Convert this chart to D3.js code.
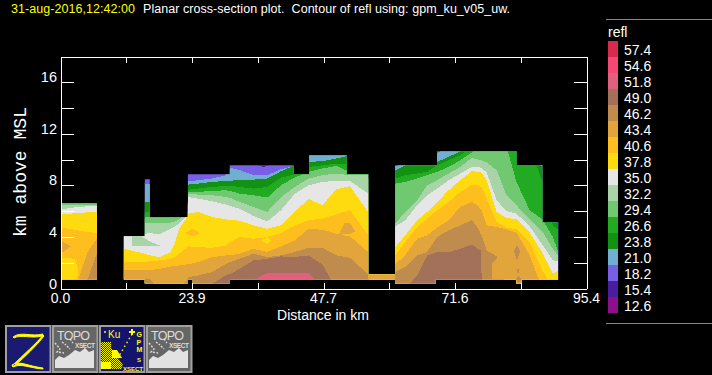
<!DOCTYPE html>
<html><head><meta charset="utf-8">
<script src="https://cdn.jsdelivr.net/npm/d3@7"></script>
<style>html,body{margin:0;padding:0;background:#000;overflow:hidden}svg{display:block}text{font-family:"Liberation Sans",sans-serif}</style>
</head><body><svg id="c" width="712" height="375"></svg>
<script>
// reflectivity legend
const legendValues = [57.4,54.6,51.8,49.0,46.2,43.4,40.6,37.8,35.0,32.2,29.4,26.6,23.8,21.0,18.2,15.4,12.6];
const legendColors = ["#d62a4e","#f74873","#e0607d","#a3705a","#c08c4e","#e1a53c","#fdbe1e","#fddb0e","#e6e6e6","#a8d4a8","#70c870","#22aa22","#129112","#70afd2","#785fe6","#481ea0","#8c0f8c"];
const xTickValues = [0,11.925,23.85,35.775,47.7,59.625,71.55,83.475,95.4];
const xTickLabels = ["0.0","","23.9","","47.7","","71.6","","95.4"];
const yTickValues = [0,2,4,6,8,10,12,14,16];
const yTickLabels = ["0","","4","","8","","12","","16"];

// distance of each sampled column, km
const columnKm = [0,1.9,3.2,4.9,6.6,
 11.5,14,15.3,16.2,18,20,20.8,21.5,23,23.2,25,27.5,30,30.8,32.5,35,37.5,40,42.5,45,47.5,50,52.5,55.8,56,60.4,
 60.7,62.5,64.7,66.5,68.3,70.4,72.5,74.6,75.8,76.3,76.4,77.3,79.1,80.9,82.7,85.1,87.4,89.3,90.3];

// height (km) of the top of each reflectivity band at each column
const top210 = [11,11,11,11,11,
 11,11,8.09,8.09,6.32,6.32,6.32,6.32,6.32,8.32,8.40,8.53,8.79,9.36,9.18,8.79,8.79,9.25,9.51,10.39,10.39,10.34,10.34,10.34,11,11,
 9.49,9.69,9.69,9.69,10.52,11,11,11,11,11,11,11,11,11,11,11,11,11,11];
const top238 = [11,11,11,11,11,
 11,11,6.71,6.71,6.32,6.32,6.32,6.32,6.32,8.06,8.14,8.27,8.35,8.37,8.40,8.45,8.53,9.10,9.56,9.82,9.88,10.08,10.34,10.34,11,11,
 9.18,9.56,9.64,9.64,9.82,10.21,10.65,11,11,11,11,11,11,11,11,11,9.36,11,11];
const top266 = [11,11,11,11,11,
 11,11,5.94,5.94,5.94,5.94,5.94,5.94,6.32,7.67,7.75,7.88,7.96,7.96,7.88,7.75,7.88,8.61,8.84,9.43,9.56,9.69,9.69,9.69,11,11,
 8.53,8.79,8.92,9.05,9.56,9.95,10.34,11,11,11,11,11,11,11,11,11,8.27,4.90,4.59];
const top294 = [11,11,11,11,11,
 11,11,5.52,5.52,5.60,5.60,5.60,5.60,6.32,7.49,7.49,7.57,7.62,7.57,7.36,7.23,7.05,8.01,8.61,9.05,9.31,9.51,9.05,8.86,11,11,
 8.14,8.27,8.53,8.79,9.05,9.43,9.95,10.55,11,11,11,11,11,11,8.27,6.07,5.37,3.99,2.83];
const top322 = [6.45,6.45,6.45,6.45,6.45,
 11,11,5.11,5.11,5.11,5.11,5.21,5.34,6.19,7.36,7.28,7.23,7.10,7.03,6.71,6.32,5.94,7.10,7.88,8.53,8.79,8.92,8.79,8.79,11,11,
 5.03,5.94,6.84,8.01,8.40,8.92,9.43,10.13,10.0,9.95,9.95,9.77,9.18,7.23,6.45,5.34,4.43,3.08,2.49];
const top350 = [6.14,6.25,6.32,6.38,6.40,
 4.10,4.10,4.25,4.30,4.20,4.64,4.82,5.03,5.68,7.10,6.97,6.77,6.51,6.40,6.19,5.62,5.21,6.07,7.36,8.01,8.27,8.35,8.35,7.36,11,11,
 4.82,5.29,6.45,7.23,7.75,8.40,8.92,9.43,9.43,9.36,9.36,8.99,6.84,6.01,5.81,4.82,3.40,2.18,2.13];
const top378 = [5.75,5.81,5.86,5.91,5.94,
 3.08,2.83,2.70,2.57,2.44,2.83,3.60,4.64,5.55,5.81,5.94,5.55,5.37,5.32,5.26,4.90,4.64,4.90,5.94,6.97,6.45,7.70,7.93,5.94,11,11,
 3.21,4.12,5.29,5.94,6.71,7.62,8.40,9.10,9.05,8.99,8.99,8.40,5.94,5.47,5.37,4.33,2.77,1.14,1.40];
const top406 = [4.72,4.61,4.51,4.38,4.30,
 2.05,2.05,2.05,2.13,2.18,2.31,2.44,2.70,3.21,3.27,3.21,3.16,3.34,3.60,3.99,3.86,3.99,4.30,4.90,5.29,5.42,5.75,6.07,4.12,11,11,
 2.57,3.60,4.77,5.42,6.07,6.71,7.49,8.06,8.01,7.88,7.88,6.97,5.16,4.72,4.59,3.60,1.40,0,0];
const top434 = [0,0,0.62,2.83,3.86,
 1.45,1.40,1.40,1.40,1.53,1.71,1.71,1.79,1.87,1.87,2.05,2.44,2.57,2.57,2.70,3.08,2.83,3.27,3.73,4.64,4.56,4.25,4.04,2.83,11,11,
 1.87,2.57,3.86,4.12,4.72,5.29,6.32,6.71,6.38,6.07,6.07,4.90,4.77,4.59,4.33,2.57,0,0,0];
const top462 = [0,0,0,0.70,2.70,
 0,0,0.70,0.70,0,0,0,0,0.67,0.88,1.01,1.27,1.92,2.05,2.31,2.70,2.44,2.57,2.83,3.16,3.16,2.57,2.38,1.09,0,0,
 1.27,1.66,2.57,2.83,3.99,4.51,4.90,5.29,4.64,4.12,4.12,2.95,2.51,0,0,0,0,0,0];
const top490 = [0,0,0,0,0,
 0,0,0,0,0,0,0,0,0,0,0,0.39,1.01,1.14,1.53,2.18,2.31,2.49,2.44,2.57,1.87,0,0,0,0,0,
 0,0,1.01,2.57,2.83,2.83,3.08,3.42,3.03,2.95,0,0,0,0,0,0,0,0,0];
const top518 = [0,0,0,0,0,
 0,0,0,0,0,0,0,0,0,0,0,0,0,0,0,0.62,1.24,1.24,1.24,1.24,0,0,0,0,0,0,
 0,0,0,0,0,0,0,0,0,0,0,0,0,0,0,0,0,0,0];

// echo top: step outline of the data region (value holds until next km); 0 = no data
const echoKm  = [0,6.6,11.5,15.3,16.2,23.1,30.7,42.3,45.1,51.9,55.8,60.7,68.3,82.7,87.4,90.3];
const echoTop = [6.61,0,4.05,8.48,5.52,8.86,9.56,8.86,10.34,8.86,1.09,9.56,10.65,9.56,5.14,0];
// lower limit of data (terrain)
const baseKm = [0,15.3,23.1,24,30.7,60.7,68,82.7,83.6,96];
const baseH  = [0.7,0.39,0.7,0.39,0.7,0.39,0.7,0.39,0.7,0.7];

// isolated pockets of a different band: [km, low, high]
const pocketWhiteA  = [[0,0.7,1.45],[0.8,0.7,0.7]];
const pocketYellowA = [[0,0.7,2.38],[2.6,0.7,2.31],[3.2,1.0,1.53]];
const pocketTanA    = [[0,2.70,3.73],[1.9,3.27,3.27]];
const pocketPaleB   = [[12.9,3.27,4.04],[14.7,3.27,4.04],[16.2,3.27,3.65],[18,3.27,3.33]];
const pocketOrangeB = [[22.6,4.3,4.3],[24,4.04,4.64],[25.3,4.3,4.3]];
const pocketYellowB = [[36.5,3.7,3.7],[37.4,3.47,3.99],[38.3,3.7,3.7]];
const pocketTanB    = [[50.4,4.1,4.1],[51.5,4.25,5.1],[52.5,4.25,5.1],[53.5,4.4,4.4]];
const pocketTanC    = [[78.25,0.7,1.92],[79.5,0.7,2.44],[81,0.7,2.44]];
const pocketBtC1    = [[82.2,2.9,2.9],[82.8,2.18,3.34],[83.4,2.9,2.9]];
const pocketBtC2    = [[82.7,1.3,1.3],[83,1.14,1.64],[83.2,1.3,1.3]];
const pocketBtC3    = [[82.6,0.7,0.7],[83.1,0.39,1.01],[83.6,0.7,0.7]];
const pocketDeep    = [[35.9,9.56,9.56],[36.8,9.43,9.56],[37.7,9.56,9.56]];

const color = v => legendColors[legendValues.indexOf(v)];
const svg = d3.select("#c");
const x = d3.scaleLinear().domain([0,95.4]).range([60.5,586.5]);
const y = d3.scaleLinear().domain([0,18]).range([288.5,56.5]);

const defs = svg.append("defs");
defs.append("clipPath").attr("id","echo").append("path")
  .attr("d", d3.area().curve(d3.curveStepAfter).x(d=>x(d[0])).y0(y(-1)).y1(d=>y(d[1]))(echoKm.map((k,i)=>[k,echoTop[i]])));
defs.append("clipPath").attr("id","base").append("path")
  .attr("d", d3.area().curve(d3.curveStepAfter).x(d=>x(d[0])).y0(d=>y(d[1])).y1(y(18))(baseKm.map((k,i)=>[k,baseH[i]])));
const dither = defs.append("pattern").attr("id","dither").attr("width",2).attr("height",2).attr("patternUnits","userSpaceOnUse");
dither.append("rect").attr("width",2).attr("height",2).attr("fill","#14146e");
dither.append("rect").attr("width",1).attr("height",1).attr("fill","#ff0");
dither.append("rect").attr("x",1).attr("y",1).attr("width",1).attr("height",1).attr("fill","#ff0");

const plot = svg.append("g").attr("clip-path","url(#echo)").append("g").attr("clip-path","url(#base)")
  .attr("shape-rendering","crispEdges");

// lowest reflectivity first: the whole data region begins as the 18.2 band
plot.append("path").attr("fill",color(18.2))
  .attr("d", d3.area().x(d=>x(d)).y0(y(-1)).y1(y(12))([0,95.4]));

const bands = [[21.0,top210],[23.8,top238],[26.6,top266],[29.4,top294],[32.2,top322],[35.0,top350],
  [37.8,top378],[40.6,top406],[43.4,top434],[46.2,top462],[49.0,top490],[51.8,top518]];
const bandArea = d3.area().x(d=>x(d[0])).y0(y(-1)).y1(d=>y(d[1]));
bands.forEach(([v,tops])=>{
  plot.append("path").attr("fill",color(v)).attr("d",bandArea(columnKm.map((k,i)=>[k,tops[i]])));
});
const pockets = [[35.0,pocketWhiteA],[37.8,pocketYellowA],[43.4,pocketTanA],[32.2,pocketPaleB],[40.6,pocketOrangeB],
  [37.8,pocketYellowB],[43.4,pocketTanB],[43.4,pocketTanC],[46.2,pocketBtC1],[46.2,pocketBtC2],[46.2,pocketBtC3],[15.4,pocketDeep]];
const pocketArea = d3.area().x(d=>x(d[0])).y0(d=>y(d[1])).y1(d=>y(d[2]));
pockets.forEach(([v,p])=>plot.append("path").attr("fill",color(v)).attr("d",pocketArea(p)));

// axes
const axes = svg.append("g").attr("shape-rendering","crispEdges");
function styleAxis(g){ g.selectAll("path,line").attr("stroke","#fff").attr("stroke-width",1); g.selectAll("text").remove(); }
axes.append("g").attr("transform",`translate(0,${y.range()[0]})`)
  .call(d3.axisBottom(x).tickValues(xTickValues).tickSizeInner(-6).tickSizeOuter(0)).call(styleAxis);
axes.append("g").attr("transform",`translate(0,${y.range()[1]})`)
  .call(d3.axisTop(x).tickValues(xTickValues).tickSizeInner(-6).tickSizeOuter(0)).call(styleAxis);
axes.append("g").attr("transform",`translate(${x.range()[0]},0)`)
  .call(d3.axisLeft(y).tickValues(yTickValues).tickSizeInner(-13).tickSizeOuter(0)).call(styleAxis);
axes.append("g").attr("transform",`translate(${x.range()[1]},0)`)
  .call(d3.axisRight(y).tickValues(yTickValues).tickSizeInner(-13).tickSizeOuter(0)).call(styleAxis);

const labels = svg.append("g").attr("fill","#fff");
yTickValues.forEach((v,i)=>{ if(yTickLabels[i]) labels.append("text").attr("x",57).attr("y",y(v)).attr("text-anchor","end")
  .attr("font-size",14.5).text(yTickLabels[i]); });
xTickValues.forEach((v,i)=>{ if(xTickLabels[i]) labels.append("text").attr("x",x(v)).attr("y",303).attr("text-anchor","middle")
  .attr("font-size",14).text(xTickLabels[i]); });
labels.append("text").attr("x",323).attr("y",320).attr("text-anchor","middle").attr("font-size",14).text("Distance in km");
labels.append("text").attr("transform","translate(26,172) rotate(-90)").attr("text-anchor","middle")
  .attr("font-size",18).attr("style","font-family:'Liberation Mono',monospace").attr("textLength",130).text("km above MSL");

// title
svg.append("text").attr("x",11).attr("y",13).attr("fill","#ff0").attr("font-size",12.5).attr("textLength",124).text("31-aug-2016,12:42:00");
svg.append("text").attr("x",143).attr("y",13).attr("fill","#fff").attr("font-size",12.5).attr("textLength",367)
  .attr("xml:space","preserve").text("Planar cross-section plot.  Contour of refl using: gpm_ku_v05_uw.");

// legend
const legend = svg.append("g");
const ly = d3.scaleBand().domain(legendValues).range([41,313]);
legend.append("line").attr("x1",606).attr("x2",712).attr("y1",19.5).attr("y2",19.5).attr("stroke","#888");
legend.append("line").attr("x1",606).attr("x2",712).attr("y1",323.5).attr("y2",323.5).attr("stroke","#888");
legend.append("text").attr("x",608).attr("y",37).attr("fill","#fff").attr("font-size",14).text("refl");
legend.selectAll("rect").data(legendValues).join("rect").attr("x",608).attr("width",10)
  .attr("y",d=>ly(d)).attr("height",ly.bandwidth()).attr("fill",d=>color(d));
legend.selectAll("text.v").data(legendValues).join("text").attr("class","v").attr("x",624).attr("y",d=>ly(d)+14)
  .attr("fill","#fff").attr("font-size",14).text(d=>d.toFixed(1));

// buttons
const icons = svg.append("g");
function frame(xp,fill){ const g=icons.append("g").attr("transform",`translate(${xp},325)`);
  g.append("rect").attr("x",1).attr("y",1).attr("width",44.5).attr("height",46).attr("fill",fill).attr("stroke","#a0a0a0").attr("stroke-width",2);
  return g; }
const z = frame(5,"#1a1a70");
z.append("path").attr("d","M8 12 C16 6 26 12 38 9 L37 11 C26 14 16 9 9 13Z M38 10 C32 18 18 30 7 41 L9 41 C20 32 32 20 39 11Z M7 40 C14 35 22 41 38 43 L38 44 C24 43 16 38 8 42Z")
  .attr("fill","#ff0").attr("stroke","#ff0");
function topo(xp){ const g=frame(xp,"#666");
  g.append("text").attr("x",5).attr("y",15).attr("fill","#ddd").attr("font-size",12.5).attr("textLength",33).text("TOPO");
  g.append("text").attr("x",43).attr("y",23).attr("text-anchor","end").attr("fill","#ddd").attr("font-size",6.5).attr("font-weight","bold").attr("textLength",20).text("XSECT");
  g.append("path").attr("d","M3 43 L3 35 L7 31 L12 33 L17 30 L23 25 L28 27 L33 23 L37 27 L42 25 L42 43Z").attr("fill","#e2e2e2");
  g.append("path").attr("d","M3 18 L8 24 L5 27 L12 28 M10 17 L14 20 M15 21 L18 24 M18 14 L21 18").attr("stroke","#ddd").attr("stroke-width",1.4).attr("stroke-dasharray","2 1.5").attr("fill","none");
}
topo(52); topo(146);
const g3 = frame(99,"#14146e");
g3.append("path").attr("d","M2 17 L12 17 L12 23 L24 40 L22 44 L2 44Z").attr("fill","url(#dither)");
g3.append("path").attr("d","M2 37 L12 37 L12 44 L2 44Z M13 25 L18 25 L23 33 L13 33Z").attr("fill","#ff0");
g3.append("text").attr("x",9).attr("y",13).attr("fill","#ff0").attr("font-size",10).text("Ku");
g3.append("circle").attr("cx",6).attr("cy",7).attr("r",1).attr("fill","#ff0");
g3.append("path").attr("d","M33 9 L20 31").attr("stroke","#ff0").attr("stroke-width",1.4).attr("stroke-dasharray","1.5 3");
g3.append("path").attr("d","M33 4 L33 10 M30 7 L36 7").attr("stroke","#ff0").attr("stroke-width",2);
["G","P","M"].forEach((t,i)=>g3.append("text").attr("x",37.5).attr("y",12+i*7.5).attr("fill","#ff0").attr("font-size",7).attr("font-weight","bold").text(t));
g3.append("text").attr("x",38).attr("y",36.5).attr("fill","#ff0").attr("font-size",6).attr("font-weight","bold").text("S");
g3.append("text").attr("x",24).attr("y",45.5).attr("fill","#ff0").attr("font-size",6).attr("font-weight","bold").attr("textLength",20).text("XSECT");
</script></body></html>
